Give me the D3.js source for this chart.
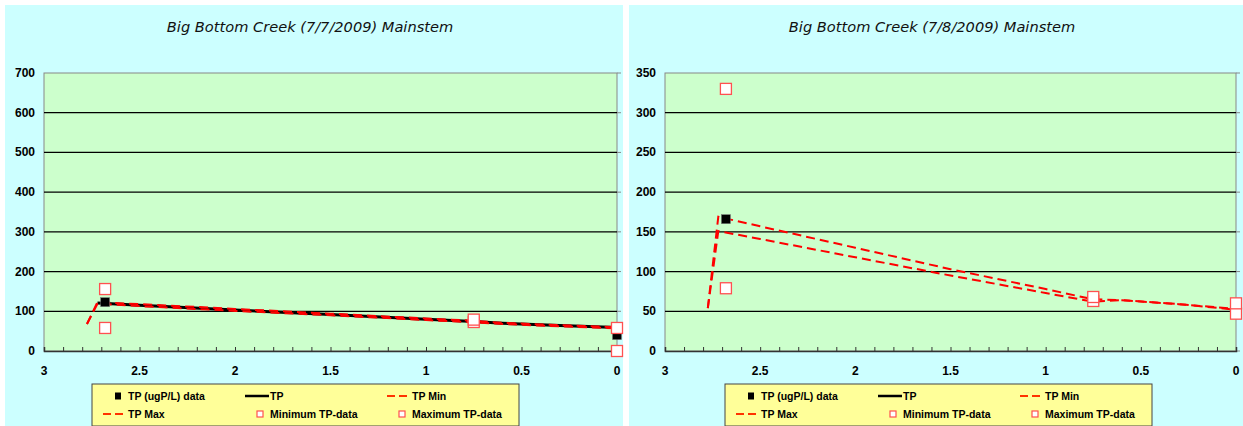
<!DOCTYPE html>
<html>
<head>
<meta charset="utf-8">
<script src="https://d3js.org/d3.v7.min.js"></script>
<style>
  body { margin: 0; background: #fff; }
  svg { display: block; }
  .tick-lab { font-family: Arial, "Liberation Sans", sans-serif; font-weight: bold; font-size: 12px; fill: #000; }
  .leg-lab { font-family: Arial, "Liberation Sans", sans-serif; font-weight: bold; font-size: 10.5px; fill: #000; }
  .title { font-family: "DejaVu Sans", sans-serif; font-style: italic; font-size: 14.6px; fill: #111; }
</style>
</head>
<body>
<svg id="visframe" width="1243" height="426"></svg>
<script>
// distance upstream (km), shared x positions
var lineX = [2.775, 2.72, 2.5, 2.0, 1.5, 1.0, 0.75, 0.6, 0.3, 0];
var xTicks = [3, 2.5, 2, 1.5, 1, 0.5, 0];

// chart 1: 7/7/2009
var title1 = "Big Bottom Creek (7/7/2009) Mainstem";
var yTicks1 = [0, 100, 200, 300, 400, 500, 600, 700];
var tp1 = [null, 121, 115, 103, 92, 80, 74, 70, 64, 59];
var tpMin1 = [68, 119, 113, 101, 90, 78, 72, 68, 62, 57];
var tpMax1 = [68, 123, 118, 106, 94, 82, 76, 71, 65, 60];
var dataX1 = [2.68, 0];
var dataY1 = [123, 40];
var minX1 = [2.68, 0.75, 0];
var minY1 = [58, 73, 0];
var maxX1 = [2.68, 0.75, 0];
var maxY1 = [156, 79, 58];

// chart 2: 7/8/2009
var title2 = "Big Bottom Creek (7/8/2009) Mainstem";
var yTicks2 = [0, 50, 100, 150, 200, 250, 300, 350];
var tp2 = [null, null, null, null, null, null, null, null, null, null];
var tpMin2 = [54, 151, 141, 118, 95, 73, 62, 64, 59, 52];
var tpMax2 = [54, 169, 157, 130, 103, 78, 65, 64, 59, 53];
var dataX2 = [2.68];
var dataY2 = [166];
var minX2 = [2.68, 0.75, 0];
var minY2 = [79, 63, 47];
var maxX2 = [2.68, 0.75, 0];
var maxY2 = [330, 68, 60];

var svg = d3.select("#visframe");

var legendItems = [
    {label: "TP (ugP/L) data", kind: "fill", col: 0, row: 0},
    {label: "TP", kind: "solid", col: 1, row: 0},
    {label: "TP Min", kind: "dash", col: 2, row: 0},
    {label: "TP Max", kind: "dash", col: 0, row: 1},
    {label: "Minimum TP-data", kind: "hollow", col: 1, row: 1},
    {label: "Maximum TP-data", kind: "hollow", col: 2, row: 1}
];

function drawChart(p){
    var g = svg.append("g");

    g.append("rect")
        .attr("x", p.panelX).attr("y", 5)
        .attr("width", p.panelW).attr("height", 421)
        .attr("fill", "#ccffff");

    g.append("text")
        .attr("class", "title")
        .attr("x", p.panelX + p.panelW / 2 - 4)
        .attr("y", 32)
        .attr("text-anchor", "middle")
        .text(p.title);

    var x = d3.scaleLinear().domain([3, 0]).range([p.left, p.right]);
    var y = d3.scaleLinear().domain([0, p.yMax]).range([351, 73]);

    g.append("rect")
        .attr("x", p.left).attr("y", 73)
        .attr("width", p.right - p.left).attr("height", 278)
        .attr("fill", "#ccffcc")
        .attr("stroke", "#888").attr("stroke-width", 1);

    // gridlines
    g.selectAll(".grid").data(p.yTicks.filter(function(d){ return d > 0 && d < p.yMax; }))
        .enter().append("line")
        .attr("x1", p.left).attr("x2", p.right)
        .attr("y1", function(d){ return y(d); })
        .attr("y2", function(d){ return y(d); })
        .attr("stroke", "#000").attr("stroke-width", 1.2);

    // right side ticks
    g.selectAll(".rtick").data(p.yTicks)
        .enter().append("line")
        .attr("x1", p.right).attr("x2", p.right + 4)
        .attr("y1", function(d){ return y(d); })
        .attr("y2", function(d){ return y(d); })
        .attr("stroke", "#888");

    // y labels
    g.selectAll(".ylab").data(p.yTicks)
        .enter().append("text")
        .attr("class", "tick-lab")
        .attr("x", p.left - 9)
        .attr("y", function(d){ return y(d) + 4; })
        .attr("text-anchor", "end")
        .text(function(d){ return d; });

    // x axis with small inside ticks every 0.1
    var xAxis = g.append("g")
        .attr("transform", "translate(0,351)")
        .call(d3.axisBottom(x).tickValues(d3.range(0, 3.01, 0.1)).tickSize(-4).tickFormat(""));
    xAxis.select(".domain").attr("stroke", "#333").attr("stroke-width", 1.5);
    xAxis.selectAll(".tick line").attr("stroke", "#333");

    g.selectAll(".xlab").data(xTicks)
        .enter().append("text")
        .attr("class", "tick-lab")
        .attr("x", function(d){ return x(d); })
        .attr("y", 375)
        .attr("text-anchor", "middle")
        .text(function(d){ return d; });

    var line = d3.line()
        .defined(function(d){ return d[1] !== null; })
        .x(function(d){ return x(d[0]); })
        .y(function(d){ return y(d[1]); });

    function pairs(xs, ys){ return xs.map(function(v, i){ return [v, ys[i]]; }); }

    var plot = g.append("g");
    plot.append("path").datum(pairs(lineX, p.tp))
        .attr("d", line).attr("fill", "none")
        .attr("stroke", "#000").attr("stroke-width", 3);
    plot.append("path").datum(pairs(lineX, p.tpMin))
        .attr("d", line).attr("fill", "none")
        .attr("stroke", "#ff0000").attr("stroke-width", 2)
        .attr("stroke-dasharray", "9,5");
    plot.append("path").datum(pairs(lineX, p.tpMax))
        .attr("d", line).attr("fill", "none")
        .attr("stroke", "#ff0000").attr("stroke-width", 2)
        .attr("stroke-dasharray", "9,5");

    // data markers
    plot.selectAll(".dat").data(pairs(p.dataX, p.dataY))
        .enter().append("rect")
        .attr("x", function(d){ return x(d[0]) - 4.5; })
        .attr("y", function(d){ return y(d[1]) - 4.5; })
        .attr("width", 9).attr("height", 9)
        .attr("fill", "#000").attr("stroke", "#777").attr("stroke-width", 0.5);

    var hollow = pairs(p.minX, p.minY).concat(pairs(p.maxX, p.maxY));
    plot.selectAll(".hol").data(hollow)
        .enter().append("rect")
        .attr("x", function(d){ return x(d[0]) - 5.5; })
        .attr("y", function(d){ return y(d[1]) - 5.5; })
        .attr("width", 11).attr("height", 11)
        .attr("fill", "#fff").attr("stroke", "#ff5050").attr("stroke-width", 1.3);

    // LEGEND
    var lx = p.legX, ly = 384;
    var leg = g.append("g").attr("transform", "translate(" + lx + "," + ly + ")");
    leg.append("rect")
        .attr("x", 0).attr("y", 0)
        .attr("width", 427).attr("height", 42)
        .attr("fill", "#ffff99").attr("stroke", "#444").attr("stroke-width", 1);

    var colX = [36, 178, 320];
    var rowY = [12, 30];
    var items = leg.selectAll(".li").data(legendItems).enter().append("g")
        .attr("transform", function(d){ return "translate(" + colX[d.col] + "," + rowY[d.row] + ")"; });

    items.each(function(d){
        var s = d3.select(this);
        if(d.kind == "fill"){
            s.append("rect").attr("x", -13).attr("y", -3.5).attr("width", 6).attr("height", 7).attr("fill", "#000");
        } else if(d.kind == "hollow"){
            s.append("rect").attr("x", -13).attr("y", -3).attr("width", 6).attr("height", 6)
                .attr("fill", "#fff").attr("stroke", "#ff5050").attr("stroke-width", 1.2);
        } else {
            s.append("line").attr("x1", -25).attr("x2", -1).attr("y1", 0).attr("y2", 0)
                .attr("stroke", d.kind == "solid" ? "#000" : "#ff3300")
                .attr("stroke-width", d.kind == "solid" ? 2.5 : 2)
                .attr("stroke-dasharray", d.kind == "solid" ? null : "8,4");
        }
        s.append("text").attr("class", "leg-lab")
            .attr("x", 0)
            .attr("y", 4)
            .text(d.label);
    });
}

drawChart({
    panelX: 5, panelW: 618, left: 44, right: 617, legX: 92,
    title: title1, yMax: 700, yTicks: yTicks1,
    tp: tp1, tpMin: tpMin1, tpMax: tpMax1,
    dataX: dataX1, dataY: dataY1,
    minX: minX1, minY: minY1, maxX: maxX1, maxY: maxY1
});

drawChart({
    panelX: 629, panelW: 614, left: 665, right: 1236, legX: 725,
    title: title2, yMax: 350, yTicks: yTicks2,
    tp: tp2, tpMin: tpMin2, tpMax: tpMax2,
    dataX: dataX2, dataY: dataY2,
    minX: minX2, minY: minY2, maxX: maxX2, maxY: maxY2
});
</script>
</body>
</html>
